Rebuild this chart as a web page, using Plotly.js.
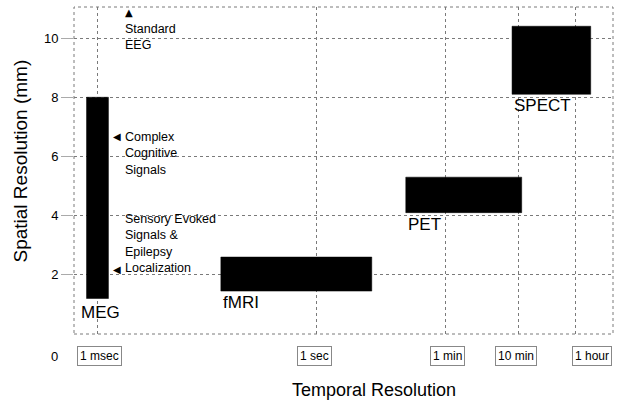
<!DOCTYPE html>
<html>
<head>
<meta charset="utf-8">
<script src="https://cdn.plot.ly/plotly-3.0.1.min.js"></script>
<style>html,body{margin:0;padding:0;background:#fff}#chart{width:618px;height:401px}</style>
</head>
<body>
<div id="chart"></div>
<script>
// ---- data ----
const modalities = ['MEG', 'fMRI', 'PET', 'SPECT'];
const timeStart = [0.0007, 0.049, 17, 490];      // seconds
const timeEnd   = [0.0014, 5.8, 665, 5900];      // seconds
const spatialLow  = [1.2, 1.45, 4.1, 8.1];       // mm
const spatialHigh = [8.0, 2.6, 5.3, 10.4];       // mm

const tickSeconds = [0.001, 1, 60, 600, 3600];
const tickLabels  = ['1 msec', '1 sec', '1 min', '10 min', '1 hour'];
const yTicks = [2, 4, 6, 8, 10];

const noteTexts = ['Standard<br>EEG', 'Complex<br>Cognitive<br>Signals', 'Sensory Evoked<br>Signals &<br>Epilepsy<br>Localization'];
const noteY = [10.05, 6.11, 3.06];

// ---- styling / layout ----
const FONT = 'Liberation Sans, Arial, sans-serif';
const tickShift = [2, -2, 2, -2, 17];
const labelShift = [[-8, -3], [0, 0], [0, 0], [0, 0]];

const traces = modalities.map((m, i) => ({
  type: 'scatter',
  mode: 'lines',
  x: [timeStart[i], timeEnd[i], timeEnd[i], timeStart[i], timeStart[i]],
  y: [spatialLow[i], spatialLow[i], spatialHigh[i], spatialHigh[i], spatialLow[i]],
  fill: 'toself',
  fillcolor: '#000',
  line: {color: '#000', width: 0.5},
  name: m,
  hoverinfo: 'name'
}));

const annotations = [];
modalities.forEach((m, i) => {
  annotations.push({
    x: Math.log10(timeStart[i]), y: spatialLow[i], xref: 'x', yref: 'y',
    text: m, showarrow: false, xanchor: 'left', yanchor: 'top',
    xshift: labelShift[i][0], yshift: labelShift[i][1],
    font: {family: FONT, size: 17, color: '#000'}
  });
});
tickSeconds.forEach((t, i) => {
  annotations.push({
    x: Math.log10(t), y: 0, xref: 'x', yref: 'paper',
    text: tickLabels[i], showarrow: false, xanchor: 'center', yanchor: 'middle',
    xshift: tickShift[i], yshift: -22,
    bordercolor: '#888', borderwidth: 1, borderpad: 2,
    font: {family: FONT, size: 12, color: '#000'}
  });
});
annotations.push({
  x: 0, y: 0, xref: 'paper', yref: 'paper', text: '0', showarrow: false,
  xanchor: 'right', yanchor: 'middle', xshift: -14, yshift: -22,
  font: {family: FONT, size: 13, color: '#000'}
});
noteTexts.forEach((t, i) => {
  annotations.push({
    x: 0.091, y: noteY[i], xref: 'paper', yref: 'y', text: t, showarrow: false,
    xanchor: 'left', yanchor: 'middle', align: 'left',
    font: {family: FONT, size: 12.5, color: '#000'}
  });
});
// arrow glyphs
annotations.push({x: 0.1021, y: 1, xref: 'paper', yref: 'paper', text: '▲', showarrow: false,
  xanchor: 'center', yanchor: 'middle', yshift: -5, font: {family: 'DejaVu Sans', size: 10, color: '#000'}});
annotations.push({x: 0.0798, y: noteY[1] + 0.57, xref: 'paper', yref: 'y', text: '◀', showarrow: false,
  xanchor: 'center', yanchor: 'middle', font: {family: 'DejaVu Sans', size: 10, color: '#000'}});
annotations.push({x: 0.0798, y: noteY[2] - 0.87, xref: 'paper', yref: 'y', text: '◀', showarrow: false,
  xanchor: 'center', yanchor: 'middle', font: {family: 'DejaVu Sans', size: 10, color: '#000'}});
// axis titles
annotations.push({x: 0.5, y: 0, xref: 'paper', yref: 'paper', text: 'Temporal Resolution', showarrow: false,
  xanchor: 'center', yanchor: 'middle', xshift: 30, yshift: -56, font: {family: FONT, size: 18, color: '#000'}});
annotations.push({x: 0, y: 0.5, xref: 'paper', yref: 'paper', text: 'Spatial Resolution (mm)', showarrow: false,
  textangle: -90, xanchor: 'center', yanchor: 'middle', xshift: -54, yshift: 9, font: {family: FONT, size: 19, color: '#000'}});

const layout = {
  width: 618, height: 401,
  margin: {l: 74, r: 5, t: 7, b: 67},
  paper_bgcolor: '#fff', plot_bgcolor: '#fff',
  showlegend: false,
  font: {family: FONT, color: '#000'},
  xaxis: {
    type: 'log', range: [-3.327, 4.077],
    tickvals: tickSeconds, showticklabels: false,
    showgrid: true, gridcolor: '#7a7a7a', gridwidth: 1, griddash: 'dot',
    zeroline: false, showline: false, ticks: ''
  },
  yaxis: {
    range: [0, 11.05], tickvals: yTicks,
    showgrid: true, gridcolor: '#7a7a7a', gridwidth: 1, griddash: 'dot',
    zeroline: false, showline: false,
    ticks: 'outside', ticklen: 12, tickcolor: '#aaa', tickwidth: 1,
    tickfont: {family: FONT, size: 13, color: '#000'}
  },
  shapes: [{type: 'rect', xref: 'paper', yref: 'paper', x0: 0, x1: 1, y0: 0, y1: 1,
    line: {color: '#7a7a7a', width: 1, dash: 'dot'}}],
  annotations: annotations
};

Plotly.newPlot('chart', traces, layout, {displayModeBar: false, staticPlot: true});
</script>
</body>
</html>
